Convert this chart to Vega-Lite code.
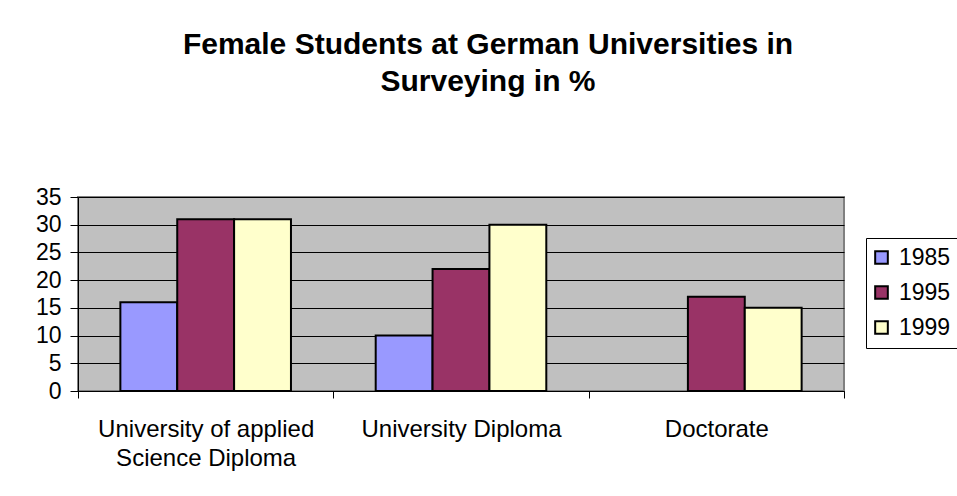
{
  "$schema": "https://vega.github.io/schema/vega-lite/v6.json",
  "autosize": {"type": "none"},
  "padding": {"left": 78, "top": 197, "right": 113, "bottom": 105},
  "width": 766,
  "height": 194,
  "background": "white",
  "title": {
    "text": ["Female Students at German Universities in", "Surveying in %"],
    "fontSize": 30,
    "fontWeight": "bold",
    "font": "Liberation Sans",
    "color": "black",
    "lineHeight": 37,
    "anchor": "middle",
    "frame": "group",
    "dx": 27,
    "offset": 89
  },
  "data": {
    "values": [
      {"degree": "University of applied Science Diploma", "year": "1985", "percent": 16},
      {"degree": "University of applied Science Diploma", "year": "1995", "percent": 31},
      {"degree": "University of applied Science Diploma", "year": "1999", "percent": 31},
      {"degree": "University Diploma", "year": "1985", "percent": 10},
      {"degree": "University Diploma", "year": "1995", "percent": 22},
      {"degree": "University Diploma", "year": "1999", "percent": 30},
      {"degree": "Doctorate", "year": "1995", "percent": 17},
      {"degree": "Doctorate", "year": "1999", "percent": 15}
    ]
  },
  "mark": {"type": "bar", "stroke": "black", "strokeWidth": 2},
  "encoding": {
    "x": {
      "field": "degree",
      "type": "nominal",
      "sort": ["University of applied Science Diploma", "University Diploma", "Doctorate"],
      "scale": {"paddingInner": 0, "paddingOuter": 0},
      "axis": {
        "title": null,
        "labelAngle": 0,
        "labelFontSize": 24,
        "labelLineHeight": 29,
        "labelPadding": 19,
        "labelLimit": 0,
        "labelColor": "black",
        "labelExpr": "datum.value == 'University of applied Science Diploma' ? ['University of applied', 'Science Diploma'] : datum.value",
        "tickBand": "extent",
        "tickSize": 7,
        "tickColor": "black",
        "domainColor": "black",
        "grid": false
      }
    },
    "xOffset": {
      "field": "year",
      "type": "nominal",
      "scale": {"domain": ["1985", "1995", "1999"], "paddingInner": 0, "paddingOuter": 0.745}
    },
    "y": {
      "field": "percent",
      "type": "quantitative",
      "scale": {"domain": [0, 35], "nice": false},
      "axis": {
        "title": null,
        "values": [0, 5, 10, 15, 20, 25, 30, 35],
        "labelFontSize": 23,
        "labelPadding": 9,
        "labelColor": "black",
        "tickSize": 8,
        "tickColor": "black",
        "domainColor": "black",
        "gridColor": "black",
        "gridOpacity": 1,
        "grid": true
      }
    },
    "color": {
      "field": "year",
      "type": "nominal",
      "scale": {"domain": ["1985", "1995", "1999"], "range": ["#9999FF", "#993366", "#FFFFCC"]},
      "legend": {
        "title": null,
        "orient": "none",
        "legendX": 788,
        "legendY": 41,
        "strokeColor": "black",
        "fillColor": "white",
        "padding": 8,
        "symbolOffset": -4,
        "symbolType": "square",
        "symbolSize": 160,
        "symbolStrokeColor": "black",
        "symbolStrokeWidth": 2,
        "symbolOpacity": 1,
        "labelFontSize": 23,
        "labelColor": "black",
        "labelOffset": 6,
        "rowPadding": 11
      }
    }
  },
  "config": {
    "font": "Liberation Sans",
    "view": {"fill": "#C0C0C0", "stroke": "#808080", "strokeWidth": 2},
    "axis": {"labelFont": "Liberation Sans"},
    "legend": {"labelFont": "Liberation Sans"}
  }
}
